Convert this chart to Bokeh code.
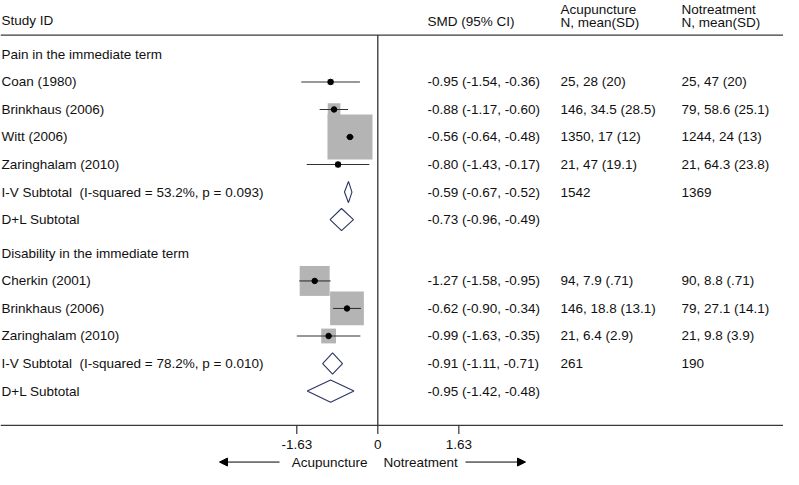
import numpy as np
from bokeh.plotting import figure
from bokeh.models import ColumnDataSource, Range1d, Arrow, NormalHead
from bokeh.core.properties import value
from bokeh.embed import file_html
from bokeh.resources import INLINE

# ---------------- data ----------------
group_titles = ["Pain in the immediate term", "Disability in the immediate term"]

pain_studies = ["Coan (1980)", "Brinkhaus (2006)", "Witt (2006)", "Zaringhalam (2010)"]
pain_smd = [-0.95, -0.88, -0.56, -0.80]
pain_lo = [-1.54, -1.17, -0.64, -1.43]
pain_hi = [-0.36, -0.60, -0.48, -0.17]
pain_weight = [1.6, 7.1, 89.8, 1.5]  # % weight within subgroup
pain_acu = ["25, 28 (20)", "146, 34.5 (28.5)", "1350, 17 (12)", "21, 47 (19.1)"]
pain_not = ["25, 47 (20)", "79, 58.6 (25.1)", "1244, 24 (13)", "21, 64.3 (23.8)"]
pain_iv = [-0.59, -0.67, -0.52]
pain_iv_label = "I-V Subtotal\u00a0 (I-squared = 53.2%, p = 0.093)"
pain_iv_n = ["1542", "1369"]
pain_dl = [-0.73, -0.96, -0.49]

dis_studies = ["Cherkin (2001)", "Brinkhaus (2006)", "Zaringhalam (2010)"]
dis_smd = [-1.27, -0.62, -0.99]
dis_lo = [-1.58, -0.90, -1.63]
dis_hi = [-0.95, -0.34, -0.35]
dis_weight = [39.8, 50.5, 9.7]
dis_acu = ["94, 7.9 (.71)", "146, 18.8 (13.1)", "21, 6.4 (2.9)"]
dis_not = ["90, 8.8 (.71)", "79, 27.1 (14.1)", "21, 9.8 (3.9)"]
dis_iv = [-0.91, -1.11, -0.71]
dis_iv_label = "I-V Subtotal\u00a0 (I-squared = 78.2%, p = 0.010)"
dis_iv_n = ["261", "190"]
dis_dl = [-0.95, -1.42, -0.48]

ticks = [-1.63, 0.0, 1.63]
tick_labels = ["-1.63", "0", "1.63"]

header_left = "Study ID"
header_smd = "SMD (95% CI)"
header_acu = ["Acupuncture", "N, mean(SD)"]
header_not = ["Notreatment", "N, mean(SD)"]
favours = ["Acupuncture", "Notreatment"]

# ---------------- layout ----------------
X0 = 385.3       # pixel of SMD = 0 (reference space)
PXU = 49.7       # pixels per SMD unit
W, H = 783, 469

def row_y(i):
    return 56 + 28.5 * i + (6.5 if i >= 7 else 0)

COL_L, COL_SMD, COL_ACU, COL_NOT = 9, 435, 568, 689
FONT = value("Liberation Sans")
FS = "13.5px"
TXT = "#111111"

p = figure(width=W, height=H, output_backend="svg", toolbar_location=None,
           x_range=Range1d((8 - X0) / PXU, (791 - X0) / PXU),
           y_range=Range1d(485.7, 0.2),
           x_axis_location=None, y_axis_location=None, min_border=0)
p.extra_x_ranges = {"px": Range1d(8, 791)}
p.outline_line_color = None
p.background_fill_color = "white"
p.border_fill_color = "white"
p.grid.visible = False
p.xgrid.visible = False
p.ygrid.visible = False

left_t, left_y = [], []
smd_t, smd_y = [], []
acu_t, acu_y = [], []
not_t, not_y = [], []
st_x, st_lo, st_hi, st_y, st_size = [], [], [], [], []
dia_xs, dia_ys = [], []

groups = [
    (group_titles[0], pain_studies, pain_smd, pain_lo, pain_hi, pain_weight, pain_acu, pain_not,
     pain_iv, pain_iv_label, pain_iv_n, pain_dl),
    (group_titles[1], dis_studies, dis_smd, dis_lo, dis_hi, dis_weight, dis_acu, dis_not,
     dis_iv, dis_iv_label, dis_iv_n, dis_dl),
]

def fmt(e, l, h):
    return f"{e:.2f} ({l:.2f}, {h:.2f})"

r = 0
for (title, names, est, lo, hi, wt, acu, nt, iv, ivlab, ivn, dl) in groups:
    left_t.append(title); left_y.append(row_y(r)); r += 1
    for k in range(len(names)):
        y = row_y(r)
        left_t.append(names[k]); left_y.append(y)
        smd_t.append(fmt(est[k], lo[k], hi[k])); smd_y.append(y)
        acu_t.append(acu[k]); acu_y.append(y)
        not_t.append(nt[k]); not_y.append(y)
        st_x.append(est[k]); st_lo.append(lo[k]); st_hi.append(hi[k]); st_y.append(y)
        st_size.append(4.75 * np.sqrt(wt[k]))
        r += 1
    for (lab, vals, ns, hh) in [(ivlab, iv, ivn, 11), ("D+L Subtotal", dl, None, 11.5)]:
        y = row_y(r)
        left_t.append(lab); left_y.append(y)
        smd_t.append(fmt(*vals)); smd_y.append(y)
        if ns:
            acu_t.append(ns[0]); acu_y.append(y)
            not_t.append(ns[1]); not_y.append(y)
        e, l, h = vals
        dia_xs.append([l, e, h, e]); dia_ys.append([y, y - hh, y, y + hh])
        r += 1

# frame lines
TOP_Y, BOT_Y = 36, 440
p.segment(x0=[8, 8], x1=[791, 791], y0=[TOP_Y, BOT_Y], y1=[TOP_Y, BOT_Y],
          x_range_name="px", line_color="#3a3a3a", line_width=1.4)
p.segment(x0=[0], x1=[0], y0=[TOP_Y], y1=[BOT_Y], line_color="#333333", line_width=1.3)

# ticks
p.segment(x0=ticks, x1=ticks, y0=[BOT_Y] * len(ticks), y1=[BOT_Y + 9] * len(ticks),
          line_color="#333333", line_width=1.2)
p.text(x=ticks, y=[460] * len(ticks), text=tick_labels, text_align="center",
       text_baseline="middle", text_font=FONT, text_font_size=FS, text_color=TXT)

# boxes, CIs, points
p.scatter(x=st_x, y=st_y, size=st_size, marker="square", fill_color="#b4b4b4",
          line_color=None)
p.segment(x0=st_lo, x1=st_hi, y0=st_y, y1=st_y, line_color="#333333", line_width=1.1)
p.scatter(x=st_x, y=st_y, size=5.5, marker="circle", fill_color="black", line_color="black")

# diamonds
p.patches(xs=dia_xs, ys=dia_ys, fill_color="white", line_color="#2b3463", line_width=1.1)

# texts
def txt(xpx, ys, ts, align="left"):
    p.text(x=[xpx] * len(ys), y=ys, text=ts, x_range_name="px", text_align=align,
           text_baseline="middle", text_font=FONT, text_font_size=FS, text_color=TXT)

txt(COL_L, left_y, left_t)
txt(COL_SMD, smd_y, smd_t)
txt(COL_ACU, acu_y, acu_t)
txt(COL_NOT, not_y, not_t)

txt(COL_L, [21], [header_left])
txt(COL_SMD, [22], [header_smd])
txt(COL_ACU, [9, 22.5], header_acu)
txt(COL_NOT, [9, 22.5], header_not)

# favours arrows
txt(375, [478], [favours[0]], align="right")
txt(391, [478], [favours[1]], align="left")
for xs, xe in [(287, 227), (473, 533)]:
    p.add_layout(Arrow(end=NormalHead(size=8, fill_color="black", line_color="black"),
                       x_start=xs, y_start=478, x_end=xe, y_end=478,
                       x_range_name="px", line_color="black", line_width=1))

open("out.html", "w").write(file_html(p, INLINE))
